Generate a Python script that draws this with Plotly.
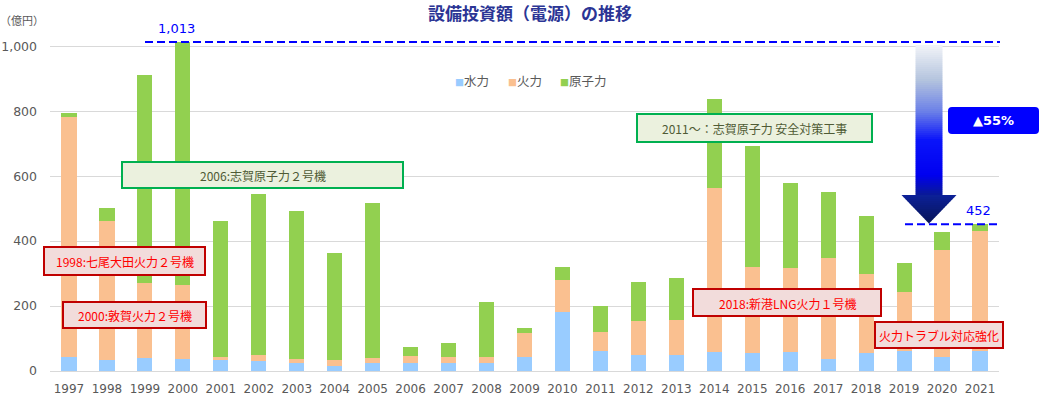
import plotly.graph_objects as go

# 設備投資額（電源）, 億円
years = [str(y) for y in range(1997, 2022)]
hydro = [42, 35, 40, 37, 36, 32, 25, 15, 26, 26, 26, 26, 42, 182, 62, 50, 50, 59, 55, 59, 37, 55, 63, 42, 63]
thermal = [739, 426, 232, 229, 6, 18, 12, 20, 13, 21, 16, 18, 74, 99, 59, 104, 107, 503, 266, 257, 310, 244, 179, 331, 369]
nuclear = [13, 40, 638, 747, 419, 496, 456, 327, 477, 28, 44, 170, 16, 38, 80, 120, 128, 275, 371, 262, 204, 178, 92, 55, 20]
series_names = ["水力", "火力", "原子力"]
series_colors = ["#99CCFF", "#FAC090", "#92D050"]

totals = [h + t + n for h, t, n in zip(hydro, thermal, nuclear)]
peak = totals[years.index("2000")]
latest = totals[years.index("2021")]
drop = round((1 - latest / peak) * 100)

W, H = 1060, 413
L, R, T, B = 50, 61, 30, 42
PW, PH = W - L - R, H - T - B


def X(px):
    return (px - L) / PW


def Y(py):
    return (H - B - py) / PH


FONT = "Noto Sans CJK JP"
NUM_FONT = "DejaVu Sans"

fig = go.Figure()
for name, vals, col in zip(series_names, [hydro, thermal, nuclear], series_colors):
    fig.add_trace(go.Bar(x=years, y=vals, name=name, marker=dict(color=col, line=dict(width=0))))

shapes = []
annots = []

# peak / latest dashed reference lines
shapes.append(dict(type="line", xref="paper", yref="y", x0=X(145), x1=X(1000), y0=peak, y1=peak,
                   line=dict(color="#0000FF", width=2, dash="8px,4px")))
shapes.append(dict(type="line", xref="paper", yref="y", x0=X(905), x1=X(1000), y0=latest, y1=latest,
                   line=dict(color="#0000FF", width=2, dash="8px,4px")))
annots.append(dict(text=f"{peak:,}", x=X(176), y=Y(28), font=dict(family=NUM_FONT, size=13, color="#0000FF")))
annots.append(dict(text=f"{latest:,}", x=X(978), y=Y(210), font=dict(family=NUM_FONT, size=13, color="#0000FF")))


def lerp_color(stops, t):
    for (t0, c0), (t1, c1) in zip(stops, stops[1:]):
        if t0 <= t <= t1:
            f = (t - t0) / (t1 - t0) if t1 > t0 else 0
            a = [int(c0[i:i + 2], 16) for i in (1, 3, 5)]
            b = [int(c1[i:i + 2], 16) for i in (1, 3, 5)]
            return "#" + "".join(f"{round(a[k] + (b[k] - a[k]) * f):02x}" for k in range(3))
    return stops[-1][1]


# gradient arrow (shaft)
shaft_stops = [(45, "#F2F4F8"), (80, "#B4C4DE"), (112, "#6A7FE8"), (140, "#0A14FA"),
               (175, "#0000F0"), (197, "#0A1C8C")]
py = 45
while py < 197:
    shapes.append(dict(type="rect", xref="paper", yref="paper", x0=X(915.5), x1=X(942.5),
                       y0=Y(py + 2.2), y1=Y(py), fillcolor=lerp_color(shaft_stops, py + 1),
                       line=dict(width=0), layer="above"))
    py += 2
# arrow head
head_stops = [(195, "#0C2098"), (223.5, "#071458")]
py = 195
while py < 223.5:
    hw0 = 27.5 * (223.5 - py) / 28.5
    hw1 = 27.5 * (223.5 - min(py + 2.2, 223.5)) / 28.5
    y0, y1 = Y(py), Y(min(py + 2.2, 223.5))
    path = (f"M {X(929 - hw0)},{y0} L {X(929 + hw0)},{y0} "
            f"L {X(929 + hw1)},{y1} L {X(929 - hw1)},{y1} Z")
    shapes.append(dict(type="path", xref="paper", yref="paper", path=path,
                       fillcolor=lerp_color(head_stops, py + 1), line=dict(width=0), layer="above"))
    py += 2

# ▲55% badge
x0, x1, y0, y1, r = 948, 1039, 107, 134, 4
badge = (f"M {X(x0 + r)},{Y(y0)} L {X(x1 - r)},{Y(y0)} Q {X(x1)},{Y(y0)} {X(x1)},{Y(y0 + r)} "
         f"L {X(x1)},{Y(y1 - r)} Q {X(x1)},{Y(y1)} {X(x1 - r)},{Y(y1)} "
         f"L {X(x0 + r)},{Y(y1)} Q {X(x0)},{Y(y1)} {X(x0)},{Y(y1 - r)} "
         f"L {X(x0)},{Y(y0 + r)} Q {X(x0)},{Y(y0)} {X(x0 + r)},{Y(y0)} Z")
shapes.append(dict(type="path", xref="paper", yref="paper", path=badge, fillcolor="#0000FF",
                   line=dict(width=0), layer="above"))
annots.append(dict(text=f"<b>▲{drop}%</b>", x=X(993.5), y=Y(120.5),
                   font=dict(family=NUM_FONT, size=13, color="white")))

# note boxes
notes = [
    ("2006:志賀原子力２号機", (122, 403, 162, 188), "green"),
    ("2011～：志賀原子力 安全対策工事", (637, 872, 114, 142), "green"),
    ("1998:七尾大田火力２号機", (44, 205, 247, 275), "red"),
    ("2000:敦賀火力２号機", (63, 206, 302, 328), "red"),
    ("2018:新港LNG火力１号機", (693, 881, 289, 316), "red"),
    ("火力トラブル対応強化", (875, 1003, 322, 348), "red"),
]
box_style = {
    "green": ("#EBF1DE", "#00B050", "#4F5B35"),
    "red": ("#F2DCDB", "#C00000", "#FF0000"),
}
for text, (bx0, bx1, by0, by1), kind in notes:
    fill, edge, tcol = box_style[kind]
    shapes.append(dict(type="rect", xref="paper", yref="paper", x0=X(bx0), x1=X(bx1),
                       y0=Y(by1), y1=Y(by0), fillcolor=fill, line=dict(color=edge, width=2),
                       layer="above"))
    annots.append(dict(text=text, x=X((bx0 + bx1) / 2), y=Y((by0 + by1) / 2 + 0.5),
                       font=dict(family=FONT, size=12, color=tcol)))

# legend drawn as text
for name, col, px in zip(series_names, series_colors, [453, 506, 558]):
    annots.append(dict(text=f"<span style='color:{col};font-size:9px'>■</span>{name}",
                       x=X(px), y=Y(80), xanchor="left",
                       font=dict(family=FONT, size=12.5, color="#595959")))

# title and unit
annots.append(dict(text="<b>設備投資額（電源）の推移</b>", x=X(530), y=Y(12.5),
                   font=dict(family=FONT, size=17, color="#2B3595")))
annots.append(dict(text="（億円）", x=X(-2), y=Y(20), xanchor="left",
                   font=dict(family=FONT, size=11, color="#595959")))

for a in annots:
    a.setdefault("xref", "paper")
    a.setdefault("yref", "paper")
    a.setdefault("showarrow", False)
    a.setdefault("xanchor", "center")
    a.setdefault("yanchor", "middle")

fig.update_layout(
    width=W,
    height=H,
    barmode="stack",
    bargap=0.6,
    showlegend=False,
    plot_bgcolor="white",
    paper_bgcolor="white",
    margin=dict(l=L, r=R, t=T, b=B, pad=0, autoexpand=False),
    shapes=shapes,
    annotations=annots,
    font=dict(family=NUM_FONT, color="#595959"),
)
fig.update_xaxes(
    type="category",
    tickfont=dict(family=NUM_FONT, size=12, color="#595959"),
    showgrid=False,
    showline=False,
    ticks="",
    ticklabelstandoff=9,
    automargin=False,
)
fig.update_yaxes(
    range=[0, 1050],
    tickvals=[0, 200, 400, 600, 800, 1000],
    tickformat=",",
    tickfont=dict(family=NUM_FONT, size=12.5, color="#595959"),
    gridcolor="#D9D9D9",
    gridwidth=1,
    zeroline=True,
    zerolinecolor="#D9D9D9",
    zerolinewidth=1,
    showline=False,
    ticks="",
    ticklabelstandoff=12,
    automargin=False,
)

fig.write_html("out.html", config={"displayModeBar": False},
               post_script="document.body.style.margin='0';")
